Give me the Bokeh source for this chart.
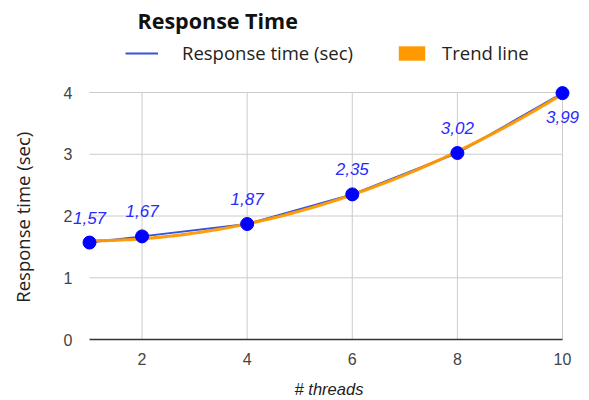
import numpy as np
from bokeh.plotting import figure
from bokeh.models import (ColumnDataSource, LabelSet, Label, FixedTicker, Legend,
                          LegendItem, Range1d)
from bokeh.embed import file_html
from bokeh.resources import INLINE
from bokeh.core.properties import value

# ---- data ----
threads = [1, 2, 4, 6, 8, 10]
response = [1.57, 1.67, 1.87, 2.35, 3.02, 3.99]
x_ticks = [2, 4, 6, 8, 10]
y_ticks = [0, 1, 2, 3, 4]
title_text = "Response Time"
series_name = "Response time (sec)"
trend_name = "Trend line"
x_label = "# threads"
y_label = "Response time (sec)"

BLUE_LINE = "#3355dd"
BLUE = "#0000ff"
LABEL_BLUE = "#2a2aff"
ORANGE = "#ff9900"
GRID = "#cccccc"
SANS = "Liberation Sans"
HUM = "Open Sans"

W, H = 589, 400
# pixel layout of the plotting frame
FL, FR, FT, FB = 72, 585, 0, 347
# pixel positions of the data corners (x=1 / x=10, y=0 / y=4)
PX1, PX10, PY0, PY4 = 89, 562, 339, 92
xmin, xmax = min(threads), max(threads)
ymin, ymax = min(y_ticks), max(y_ticks)
kx = (PX10 - PX1) / (xmax - xmin)
ky = (PY0 - PY4) / (ymax - ymin)
x_range = Range1d(xmin - (PX1 - FL) / kx, xmax + (FR - PX10) / kx)
y_range = Range1d(ymin - (FB - PY0) / ky, ymax + (PY4 - FT) / ky)


def dx(px):
    return xmin + (px - PX1) / kx


def dy(py):
    return ymin + (PY0 - py) / ky


p = figure(width=W, height=H, output_backend="svg", toolbar_location=None,
           x_range=x_range, y_range=y_range, title=None,
           min_border_left=FL, min_border_right=W - FR, min_border_top=FT,
           min_border_bottom=H - FB)
p.outline_line_color = None
p.background_fill_color = "white"
p.border_fill_color = "white"
p.xgrid.visible = False
p.ygrid.visible = False

# grid lines limited to the data area
p.segment(x0=x_ticks, y0=[ymin] * len(x_ticks), x1=x_ticks, y1=[ymax] * len(x_ticks),
          line_color=GRID, line_width=1)
gy = [t for t in y_ticks if t != ymin]
p.segment(x0=[xmin] * len(gy), y0=gy, x1=[xmax] * len(gy), y1=gy,
          line_color=GRID, line_width=1)
# baseline
p.segment(x0=[xmin], y0=[ymin], x1=[xmax], y1=[ymin], line_color="#333333", line_width=1.6)

# axes
for ax in (p.xaxis[0], p.yaxis[0]):
    ax.axis_line_color = None
    ax.major_tick_line_color = None
    ax.minor_tick_line_color = None
    ax.major_tick_out = 0
    ax.major_tick_in = 0
    ax.major_label_text_font = SANS
    ax.major_label_text_font_size = "16px"
    ax.major_label_text_color = "#444444"
p.xaxis.ticker = FixedTicker(ticks=x_ticks)
p.yaxis.ticker = FixedTicker(ticks=y_ticks)
p.xaxis.major_label_standoff = 5
p.yaxis.major_label_standoff = 0

p.xaxis.axis_label = x_label
p.xaxis.axis_label_text_font = SANS
p.xaxis.axis_label_text_font_style = "italic"
p.xaxis.axis_label_text_font_size = "16.5px"
p.xaxis.axis_label_text_color = "#222222"
p.xaxis.axis_label_standoff = 12

# the axis title is centred on the frame; trailing no-break spaces move the
# visible words down to the centre of the gridded area, as in the original
p.yaxis.axis_label = y_label + "\u00a0" * 18
p.yaxis.axis_label_text_font = HUM
p.yaxis.axis_label_text_font_style = "normal"
p.yaxis.axis_label_text_font_size = "18.5px"
p.yaxis.axis_label_text_color = "#222222"
p.yaxis.axis_label_standoff = 26

# series line
line_r = p.line(threads, response, line_color=BLUE_LINE, line_width=2)

# polynomial trend line fitted to the data
coef = np.polyfit(threads, response, 2)
tx = np.linspace(xmin, xmax, 120)
ty = np.polyval(coef, tx)
p.line(tx, ty, line_color=ORANGE, line_width=3.2, line_alpha=0.95)

p.scatter(threads, response, size=13, fill_color=BLUE, line_color=BLUE)

# value labels
labels = [f"{v:.2f}".replace(".", ",") for v in response]
top = max(response)
above = ColumnDataSource(dict(x=[t for t, v in zip(threads, response) if v != top],
                              y=[v for v in response if v != top],
                              t=[l for l, v in zip(labels, response) if v != top]))
below = ColumnDataSource(dict(x=[t for t, v in zip(threads, response) if v == top],
                              y=[v for v in response if v == top],
                              t=[l for l, v in zip(labels, response) if v == top]))
common = dict(x="x", y="y", text="t", text_font=value(SANS), text_font_size="17px",
              text_font_style="italic", text_color=LABEL_BLUE, text_align="center")
p.add_layout(LabelSet(source=above, y_offset=19, text_baseline="alphabetic", **common))
p.add_layout(LabelSet(source=below, y_offset=-18, text_baseline="top", **common))

# legend (swatch renderer has no visible data; it only provides the legend box)
swatch = p.quad(left=[np.nan], right=[np.nan], top=[np.nan], bottom=[np.nan],
                fill_color=ORANGE, line_color=None)
leg_common = dict(orientation="horizontal", padding=0, margin=0, glyph_width=33,
                  glyph_height=18, label_height=18, label_text_font=HUM,
                  label_text_font_size="18.5px", label_text_color="#222222",
                  background_fill_alpha=0, border_line_alpha=0)
leg1 = Legend(items=[LegendItem(label=series_name, renderers=[line_r])],
              label_standoff=24, location=(125 - FL, FB - 65), **leg_common)
leg2 = Legend(items=[LegendItem(label=trend_name, renderers=[swatch])],
              label_standoff=14, location=(395 - FL, FB - 65), **leg_common)
p.add_layout(leg1, "center")
p.add_layout(leg2, "center")

# title
p.add_layout(Label(x=dx(137), y=dy(20), text=title_text,
                   text_font=HUM, text_font_style="bold", text_font_size="21.5px",
                   text_color="#111111", text_baseline="alphabetic", text_align="left"))

open("out.html", "w").write(file_html(p, INLINE))
